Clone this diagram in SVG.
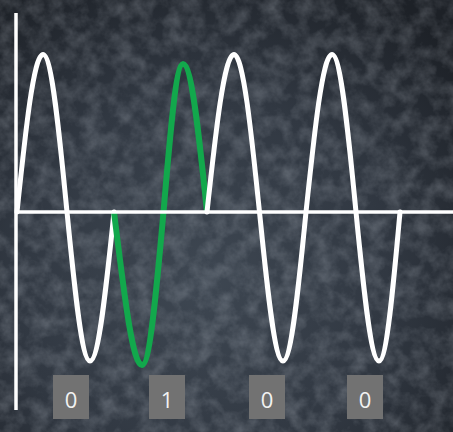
<svg xmlns="http://www.w3.org/2000/svg" width="453" height="432" viewBox="0 0 453 432">
  <defs>
    <radialGradient id="bg" cx="200" cy="280" r="340" gradientUnits="userSpaceOnUse">
      <stop offset="0" stop-color="#3e4752"/>
      <stop offset="0.55" stop-color="#313842"/>
      <stop offset="1" stop-color="#1d2127"/>
    </radialGradient>
    <filter id="noise" x="0" y="0" width="100%" height="100%">
      <feTurbulence type="fractalNoise" baseFrequency="0.06" numOctaves="4" seed="7"/>
      <feColorMatrix type="matrix" values="0 0 0 0 0.78  0 0 0 0 0.83  0 0 0 0 0.9  0.4 0 0 0 -0.14"/>
    </filter>
    <style>
      .axis { stroke: #ffffff; stroke-width: 3.5; fill: none; }
      .wave { stroke: #ffffff; stroke-width: 5; fill: none; stroke-linecap: round; stroke-linejoin: round; }
      .bitwave { stroke: #12a84c; stroke-width: 6; fill: none; stroke-linecap: butt; stroke-linejoin: round; }
      .box { fill: #727272; }
      .lbl { fill: #f2f2f2; font-family: "Open Sans", "Liberation Sans", sans-serif; font-size: 22px; text-anchor: middle; }
    </style>
  </defs>
  <rect width="453" height="432" fill="url(#bg)"/>
  <rect width="453" height="432" filter="url(#noise)"/>

  <g id="waves">
    <path id="wave-white-1" class="wave" d="M17,212 C25.5,131.3 33.6,54.5 43,54.5 C51.7,54.5 59.2,131.3 67,212 C74.5,288.3 81.7,361 90,361 C98.7,361 106.2,288.3 114,212"/>
    <path id="wave-green" class="bitwave" d="M114,212 C123.8,290.4 132.2,365 142,365 C149.8,365 156.5,290.4 163.5,212 C169.9,136.2 175.9,64 183,64 C191.7,64 199.2,136.2 207,212"/>
    <path id="wave-white-2" class="wave" d="M207,212 C215.8,131.3 224.2,54.5 234,54.5 C243.2,54.5 251.2,131.3 259.5,212 C267.2,288.3 274.5,361 283,361 C291.3,361 298.5,288.3 306,212 C314.5,131.3 322.6,54.5 332,54.5 C340.7,54.5 348.2,131.3 356,212 C363.5,288.3 370.7,361 379,361 C386.6,361 393.2,288.3 400,212"/>
  </g>

  <g id="axes">
    <line class="axis" x1="16" y1="13" x2="16" y2="410"/>
    <line class="axis" x1="16" y1="212" x2="453" y2="212"/>
  </g>

  <g id="bit-0a">
    <rect class="box" x="53" y="375" width="36" height="44"/>
    <text class="lbl" x="71" y="407.5">0</text>
  </g>
  <g id="bit-1">
    <rect class="box" x="149" y="375" width="36" height="44"/>
    <text class="lbl" x="167" y="407.5">1</text>
  </g>
  <g id="bit-0b">
    <rect class="box" x="249" y="375" width="36" height="44"/>
    <text class="lbl" x="267" y="407.5">0</text>
  </g>
  <g id="bit-0c">
    <rect class="box" x="347" y="375" width="36" height="44"/>
    <text class="lbl" x="365" y="407.5">0</text>
  </g>
</svg>
